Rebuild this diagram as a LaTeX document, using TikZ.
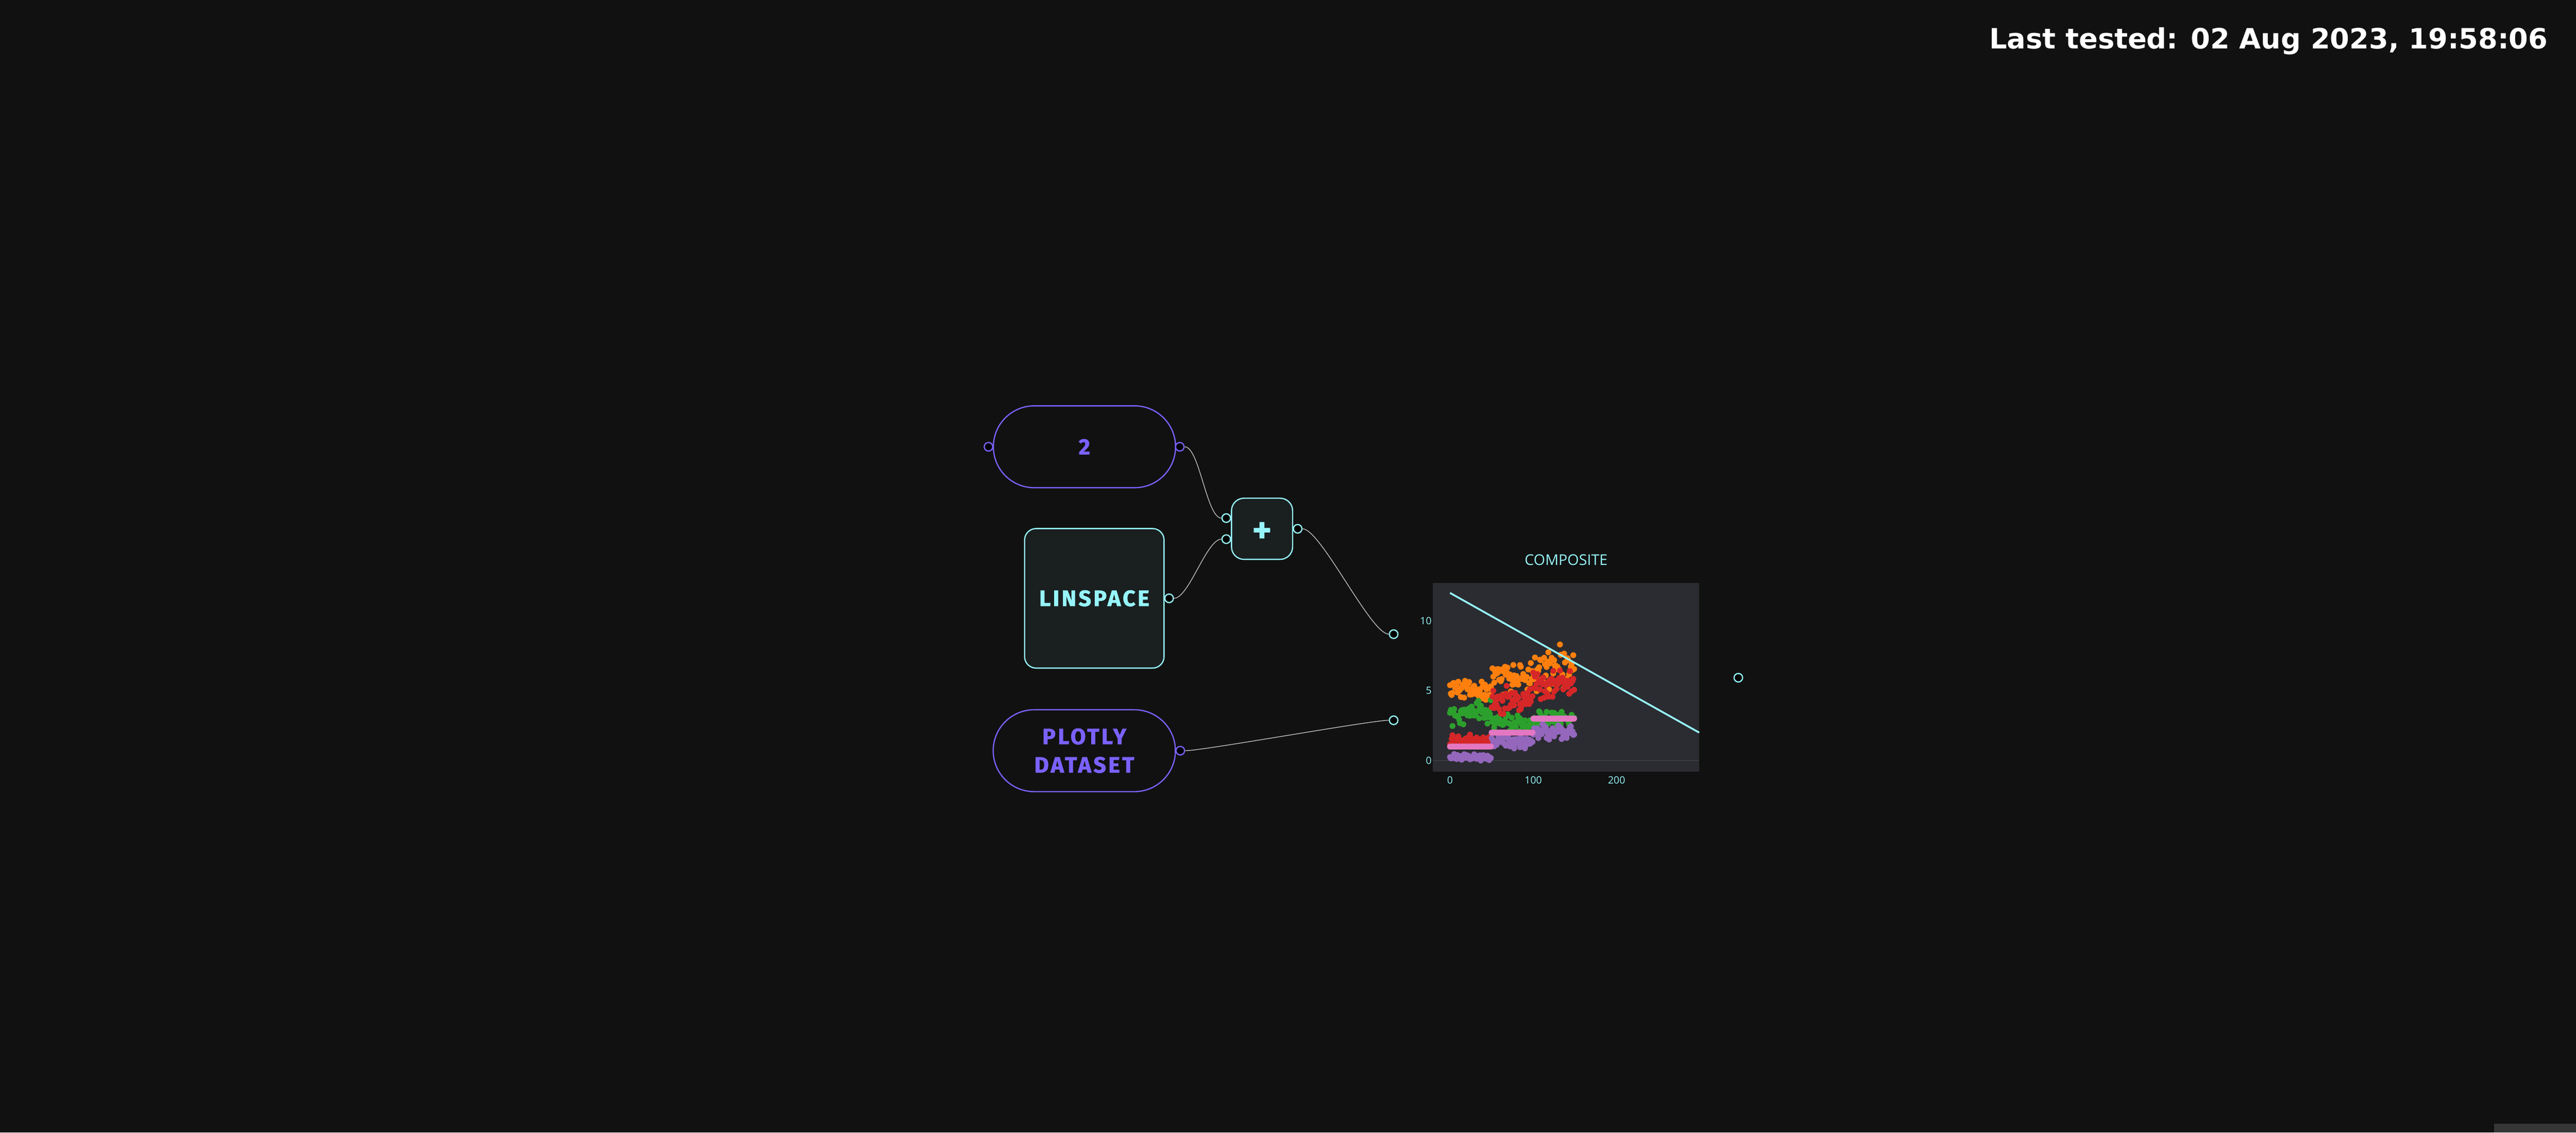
\documentclass[tikz,border=0pt]{standalone}
\usepackage{fontspec}
\usepackage{tikz}
\usepackage{xcolor}
\setmainfont{Open Sans}
\newfontfamily\stampfont{DejaVu Sans}
\newfontfamily\nodefont{Fira Sans}[BoldFeatures={FakeBold=1.6, LetterSpace=10}]
\newfontfamily\signfont{Fira Sans}
\usetikzlibrary{shapes.misc}

\definecolor{bg}{HTML}{111111}
\definecolor{nodeviolet}{HTML}{7B61FF}
\definecolor{nodecyan}{HTML}{96F5FA}
\definecolor{boxfill}{HTML}{1A1F20}
\definecolor{wiregray}{HTML}{BDBDBD}
\definecolor{plotbg}{HTML}{2B2C31}
\definecolor{zeroline}{HTML}{46474C}
\definecolor{cornergray}{HTML}{363636}
\definecolor{irisorange}{HTML}{FF7F0E}
\definecolor{irisgreen}{HTML}{2CA02C}
\definecolor{irisred}{HTML}{D62728}
\definecolor{irispurple}{HTML}{9467BD}
\definecolor{irispink}{HTML}{E377C2}

\tikzset{
    value-pill/.style = {rounded rectangle, draw=nodeviolet, fill=bg, line width=0.75pt, minimum width=110.9pt, minimum height=49.8pt, inner sep=0pt, text=nodeviolet, align=center, font=\nodefont\bfseries\fontsize{13.5}{17.3}\selectfont},
    op-box/.style = {rectangle, rounded corners=7pt, draw=nodecyan, fill=boxfill, line width=0.75pt, inner sep=0pt, text=nodecyan, font=\nodefont\bfseries\fontsize{13.5}{17.3}\selectfont},
    op-sign/.style = {text=nodecyan, inner sep=0pt, yshift=-2.4pt, font=\signfont\bfseries\fontsize{23}{23}\selectfont},
    port-dot/.style = {circle, draw=#1, fill=black, line width=0.75pt, minimum size=5.2pt, inner sep=0pt},
    wire/.style = {draw=wiregray, line width=0.45pt},
    tick-label/.style = {text=nodecyan, inner sep=0pt, font=\fontsize{6.1}{7}\selectfont},
}

% one scatter trace: colour, group means, group spreads
\newcommand{\irisdots}[3]{%
  \foreach \k in {0,...,149} {
    \pgfmathsetmacro{\g}{int(\k/50)}
    \pgfmathsetmacro{\v}{{#2}[\g] + {#3}[\g]*(rand+rand+rand)}
    \fill[#1] (\k,\v) circle[radius=1.8pt];
  }}

\begin{document}
\begin{tikzpicture}[x=1pt, y=-1pt]
\fill[bg] (0,0) rectangle (1568,689);
\fill[cornergray] (1518,683.6) rectangle (1568,689);

\node[anchor=base east, inner sep=0pt, text=white, font=\stampfont\bfseries\fontsize{17}{20}\selectfont] (stamp) at (1551,29.5) {Last tested: 02 Aug 2023, 19:58:06};

% nodes
\node[value-pill] (two) at (660.1,271.8) {2};
\node[op-box, minimum width=84.9pt, minimum height=84.9pt] (linspace) at (666.1,364) {LINSPACE};
\node[op-box, rounded corners=7.6pt, minimum width=37.2pt, minimum height=37.2pt, label={[op-sign]center:+}] (plus) at (768.2,321.7) {};
\node[value-pill] (dataset) at (660,456.7) {PLOTLY\\DATASET};
\node[minimum width=209.4pt, minimum height=100pt, inner sep=0pt] (comp) at (953.2,412) {};
\node[text=nodecyan, inner sep=0pt, font=\fontsize{9}{10}\selectfont] (comp-title) at (953.3,340.7) {COMPOSITE};

% ports
\node[port-dot=nodeviolet, xshift=-2.6pt] (two-in) at (two.west) {};
\node[port-dot=nodeviolet, xshift=2.2pt] (two-out) at (two.east) {};
\node[port-dot=nodecyan, xshift=2.7pt] (linspace-out) at (linspace.east) {};
\node[port-dot=nodecyan, xshift=-2.8pt, yshift=6.5pt] (plus-in1) at (plus.west) {};
\node[port-dot=nodecyan, xshift=-2.8pt, yshift=-6.3pt] (plus-in2) at (plus.west) {};
\node[port-dot=nodecyan, xshift=2.7pt] (plus-out) at (plus.east) {};
\node[port-dot=nodeviolet, xshift=2.6pt] (dataset-out) at (dataset.east) {};
\node[port-dot=nodecyan, yshift=26.2pt] (comp-in1) at (comp.west) {};
\node[port-dot=nodecyan, yshift=-26.2pt] (comp-in2) at (comp.west) {};
\node[port-dot=nodecyan, yshift=-0.3pt] (comp-out) at (comp.east) {};

% wires
\draw[wire] (two-out) .. controls +(12,0) and +(-12,0) .. (plus-in1);
\draw[wire] (linspace-out) .. controls +(12,0) and +(-12,0) .. (plus-in2);
\draw[wire] (plus-out) .. controls +(14,0) and +(-14,0) .. (comp-in1);
\draw[wire] (dataset-out) .. controls +(14,0) and +(-14,0) .. (comp-in2);

% plot of the composite
\begin{scope}[shift={(882.6,462.7)}, x=0.507pt, y=8.5pt]
  \fill[plotbg] (-20.5,-0.81) rectangle (299.2,12.72);
  \draw[zeroline, line width=0.6pt] (-20.5,0) -- (299.2,0);
  \pgfmathsetseed{11}
  \irisdots{irisorange}{5.01,5.94,6.59}{0.35,0.52,0.64}
  \irisdots{irisgreen}{3.43,2.77,2.97}{0.38,0.31,0.32}
  \irisdots{irisred}{1.46,4.26,5.55}{0.17,0.47,0.55}
  \irisdots{irispurple}{0.25,1.33,2.03}{0.1,0.2,0.27}
  \irisdots{irispink}{1,2,3}{0,0,0}
  \draw[nodecyan, line width=1.1pt] (0,12) -- (299.2,2);
  \foreach \t in {0,100,200}
    \node[tick-label] at (\t,-1.42) {\t};
  \foreach \t in {0,5,10}
    \node[tick-label, anchor=east] at (-21.7,\t) {\t};
\end{scope}
\end{tikzpicture}
\end{document}
